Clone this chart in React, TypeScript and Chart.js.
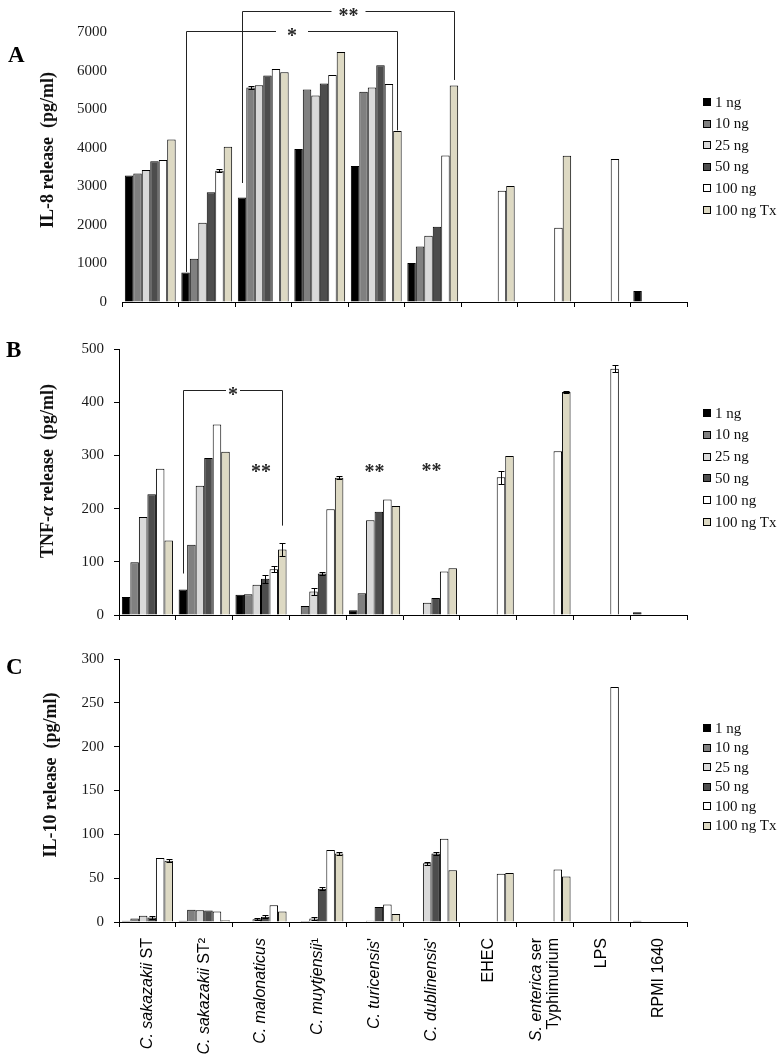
import { useEffect, useRef } from "react";
import { Chart, registerables } from "chart.js";

Chart.register(...registerables);
Chart.defaults.font.family = '"Liberation Serif", "Times New Roman", serif';
Chart.defaults.color = "#000";

// ---------- categories & doses ----------
const categories = [
  "C. sakazakii ST",
  "C. sakazakii ST\u00b2",
  "C. malonaticus",
  "C. muytjensii\u00b9",
  "C. turicensis'",
  "C. dublinensis'",
  "EHEC",
  "S. enterica ser\nTyphimurium",
  "LPS",
  "RPMI 1640",
];
const italicPrefix = [
  "C. sakazakii",
  "C. sakazakii",
  "C. malonaticus",
  "C. muytjensii",
  "C. turicensis",
  "C. dublinensis",
  "",
  "S. enterica",
  "",
  "",
];
const doseLabels = ["1 ng", "10 ng", "25 ng", "50 ng", "100 ng", "100 ng Tx"];
const doseColors = ["#000000", "#808080", "#d9d9d9", "#4d4d4d", "#ffffff", "#ddd9c3"];

// ---------- Panel A: IL-8 (pg/ml) ----------
const il8Max = 7000;
const il8Step = 1000;
const il8_1ng = [3280, 767, 2707, 3966, 3526, 1009, null, null, null, 285];
const il8_10ng = [3330, 1121, 5560, 5509, 5448, 1440, null, null, null, null];
const il8_25ng = [3420, 2052, 5621, 5353, 5560, 1716, null, null, null, null];
const il8_50ng = [3650, 2845, 5871, 5664, 6138, 1950, null, null, null, null];
const il8_100ng = [3681, 3400, 6043, 5888, 5655, 3800, 2887, 1927, 3708, null];
const il8_100ngTx = [4216, 4026, 5957, 6483, 4431, 5610, 3008, 3794, null, null];
const il8Errors = [
  [0, 0, 0, 0, 0, 0, 0, 0, 0, 0],
  [0, 0, 40, 0, 0, 0, 0, 0, 0, 0],
  [0, 0, 0, 0, 0, 0, 0, 0, 0, 0],
  [0, 0, 0, 0, 0, 0, 0, 0, 0, 0],
  [0, 40, 0, 0, 0, 0, 0, 0, 0, 0],
  [0, 0, 0, 0, 0, 0, 0, 0, 0, 0],
];
const il8Brackets = [
  { label: "*", fromCat: 1, fromDose: 0, fromEnd: 780, toCat: 4, toDose: 5, toEnd: 4450, top: 7020, gap: 16 },
  { label: "**", fromCat: 2, fromDose: 0, fromEnd: 3085, toCat: 5, toDose: 5, toEnd: 5756, top: 7545, gap: 17 },
];

// ---------- Panel B: TNF-alpha (pg/ml) ----------
const tnfMax = 500;
const tnfStep = 100;
const tnf_1ng = [34, 48, 38, null, 9, null, null, null, null, 5];
const tnf_10ng = [99, 132, 39, 17, 41, null, null, null, null, null];
const tnf_25ng = [184, 243, 57, 44, 178, 23, null, null, null, null];
const tnf_50ng = [227, 295, 68, 78, 194, 32, null, null, null, null];
const tnf_100ng = [275, 358, 86, 199, 217, 82, 259, 308, 463, null];
const tnf_100ngTx = [140, 307, 123, 258, 205, 88, 299, 419, null, null];
const tnfErrors = [
  [0, 0, 0, 0, 0, 0, 0, 0, 0, 0],
  [0, 0, 0, 0, 0, 0, 0, 0, 0, 0],
  [0, 0, 0, 6, 0, 0, 0, 0, 0, 0],
  [0, 0, 7, 2, 0, 0, 0, 0, 0, 0],
  [0, 0, 6, 0, 0, 0, 12, 0, 7, 0],
  [0, 0, 12, 3, 0, 0, 0, 2, 0, 0],
];
const tnfBrackets = [
  { label: "*", fromCat: 1, fromDose: 0, fromEnd: 78, toCat: 2, toDose: 5, toEnd: 168, top: 423, gap: 7 },
];
const tnfStars = [
  { cat: 2, value: 276, label: "**" },
  { cat: 4, value: 276, label: "**" },
  { cat: 5, value: 279, label: "**" },
];

// ---------- Panel C: IL-10 (pg/ml) ----------
const il10Max = 300;
const il10Step = 50;
const il10_1ng = [1.5, 1.5, null, null, null, null, null, null, null, 1.5];
const il10_10ng = [4, 14, null, 1, null, null, null, null, null, null];
const il10_25ng = [7, 13.5, 3, 4, 1.5, 67, null, null, null, null];
const il10_50ng = [5, 13, 6, 38, 17, 78, null, null, null, null];
const il10_100ng = [73, 12, 19, 82, 20, 95, 55, 60, 268, null];
const il10_100ngTx = [70, 2, 12, 78, 9, 59, 56, 52, null, null];
const il10Errors = [
  [0, 0, 0, 0, 0, 0, 0, 0, 0, 0],
  [0, 0, 0, 0, 0, 0, 0, 0, 0, 0],
  [0, 0, 1, 1.5, 0, 1.5, 0, 0, 0, 0],
  [2, 0, 1.5, 1.5, 0, 1.5, 0, 0, 0, 0],
  [0, 0, 0, 0, 0, 0, 0, 0, 0, 0],
  [2, 0, 0, 2, 0, 0, 0, 0, 0, 0],
];

type Bracket = {
  label: string;
  fromCat: number;
  fromDose: number;
  fromEnd: number;
  toCat: number;
  toDose: number;
  toEnd: number;
  top: number;
  gap: number;
};
type Star = { cat: number; value: number; label: string };

type PanelProps = {
  top: number;
  height: number;
  padTop: number;
  axisLeft: number;
  xHeight: number;
  series: (number | null)[][];
  errors: number[][];
  yMax: number;
  yStep: number;
  yLine: boolean;
  brackets?: Bracket[];
  stars?: Star[];
  xLabels?: boolean;
};

const CANVAS_W = 783;
const PLOT_RIGHT = 687;

function drawStarText(ctx: CanvasRenderingContext2D, text: string, x: number, yCenter: number) {
  ctx.save();
  ctx.fillStyle = "#2a2a2a";
  ctx.font = 'bold 20px "Liberation Serif"';
  ctx.textAlign = "center";
  ctx.textBaseline = "alphabetic";
  ctx.fillText(text, x, yCenter + 10);
  ctx.restore();
}

function BarPanel(p: PanelProps) {
  const ref = useRef<HTMLCanvasElement | null>(null);
  useEffect(() => {
    if (!ref.current) return;
    const overlay = {
      id: "overlay",
      afterDatasetsDraw(chart: any) {
        const ctx: CanvasRenderingContext2D = chart.ctx;
        const ys = chart.scales.y;
        const xs = chart.scales.x;
        // error bars
        chart.data.datasets.forEach((ds: any, di: number) => {
          const errs: number[] = p.errors[di];
          const meta = chart.getDatasetMeta(di);
          errs.forEach((e, j) => {
            const v = ds.data[j];
            if (!e || v == null) return;
            const bx = Math.round(meta.data[j].x) + 0.5;
            const yt = Math.round(ys.getPixelForValue(v + e)) + 0.5;
            const yb = Math.round(ys.getPixelForValue(Math.max(0, v - e))) + 0.5;
            ctx.save();
            ctx.strokeStyle = "#000";
            ctx.lineWidth = 1;
            ctx.beginPath();
            ctx.moveTo(bx, yt);
            ctx.lineTo(bx, yb);
            ctx.moveTo(bx - 3, yt);
            ctx.lineTo(bx + 3, yt);
            ctx.moveTo(bx - 3, yb);
            ctx.lineTo(bx + 3, yb);
            ctx.stroke();
            ctx.restore();
          });
        });
        // significance brackets
        (p.brackets || []).forEach((b) => {
          const x1 = Math.round(chart.getDatasetMeta(b.fromDose).data[b.fromCat].x) + 0.5;
          const x2 = Math.round(chart.getDatasetMeta(b.toDose).data[b.toCat].x) + 0.5;
          const yTop = Math.round(ys.getPixelForValue(b.top)) + 0.5;
          const y1 = ys.getPixelForValue(b.fromEnd);
          const y2 = ys.getPixelForValue(b.toEnd);
          const mid = (x1 + x2) / 2;
          ctx.save();
          ctx.strokeStyle = "#222";
          ctx.lineWidth = 1;
          ctx.beginPath();
          ctx.moveTo(x1, y1);
          ctx.lineTo(x1, yTop);
          ctx.lineTo(mid - b.gap, yTop);
          ctx.moveTo(mid + b.gap, yTop);
          ctx.lineTo(x2, yTop);
          ctx.lineTo(x2, y2);
          ctx.stroke();
          ctx.restore();
          drawStarText(ctx, b.label, mid, yTop);
        });
        (p.stars || []).forEach((s) => {
          drawStarText(ctx, s.label, xs.getPixelForValue(s.cat), ys.getPixelForValue(s.value));
        });
      },
      afterDraw(chart: any) {
        if (!p.xLabels) return;
        const ctx: CanvasRenderingContext2D = chart.ctx;
        const xs = chart.scales.x;
        const labelTop = chart.chartArea.bottom + 16;
        const size = 16;
        categories.forEach((c, i) => {
          const lines = c.split("\n");
          const cx = xs.getPixelForValue(i);
          lines.forEach((line, li) => {
            const off = (li - (lines.length - 1) / 2) * 17;
            const it = li === 0 ? italicPrefix[i] : "";
            const segs: [string, boolean][] =
              it && line.startsWith(it) ? [[it, true], [line.slice(it.length), false]] : [[line, false]];
            ctx.save();
            ctx.translate(cx + off, labelTop);
            ctx.rotate(-Math.PI / 2);
            ctx.fillStyle = "#000";
            ctx.textBaseline = "middle";
            ctx.textAlign = "left";
            let total = 0;
            segs.forEach(([t, ital]) => {
              ctx.font = `${ital ? "italic " : ""}${size}px "Liberation Sans"`;
              total += ctx.measureText(t).width;
            });
            let cur = -total;
            segs.forEach(([t, ital]) => {
              ctx.font = `${ital ? "italic " : ""}${size}px "Liberation Sans"`;
              ctx.fillText(t, cur, 0);
              cur += ctx.measureText(t).width;
            });
            ctx.restore();
          });
        });
      },
    };

    const chart = new Chart(ref.current, {
      type: "bar",
      data: {
        labels: categories,
        datasets: p.series.map((s, i) => ({
          label: doseLabels[i],
          data: s,
          backgroundColor: doseColors[i],
          borderColor: "#000",
          borderWidth: 1,
          categoryPercentage: 0.9,
          barPercentage: 1.0,
        })) as any,
      },
      options: {
        responsive: false,
        animation: false,
        layout: { padding: { top: p.padTop, right: CANVAS_W - PLOT_RIGHT, bottom: 0, left: 0 } },
        plugins: { legend: { display: false }, tooltip: { enabled: false } },
        scales: {
          x: {
            type: "category",
            offset: true,
            afterFit: (s: any) => {
              s.height = p.xHeight;
            },
            grid: {
              display: true,
              drawOnChartArea: false,
              drawTicks: true,
              tickLength: 5,
              color: "#000",
              offset: true,
            },
            border: { display: true, color: "#000", width: 1 },
            ticks: { display: false },
          },
          y: {
            min: 0,
            max: p.yMax,
            afterFit: (s: any) => {
              s.width = p.axisLeft;
            },
            grid: {
              display: true,
              drawOnChartArea: false,
              drawTicks: p.yLine,
              tickLength: 5,
              color: p.yLine ? "#000" : "rgba(0,0,0,0)",
            },
            border: { display: p.yLine, color: "#000", width: 1 },
            ticks: {
              stepSize: p.yStep,
              padding: p.yLine ? 10 : 15,
              font: { size: 15, family: '"Liberation Serif"' },
              color: "#1a1a1a",
              callback: (v: any) => String(v),
            },
          },
        },
      },
      plugins: [overlay],
    });
    return () => chart.destroy();
  }, []);
  return (
    <canvas
      ref={ref}
      width={CANVAS_W}
      height={p.height}
      style={{ position: "absolute", left: 0, top: p.top, width: CANVAS_W, height: p.height }}
    />
  );
}

function Legend({ top, spacing }: { top: number; spacing: number }) {
  return (
    <>
      {doseLabels.map((l, i) => (
        <div
          key={l}
          style={{
            position: "absolute",
            left: 703,
            top: top + i * spacing - 9,
            height: 18,
            lineHeight: "18px",
            display: "flex",
            alignItems: "center",
            whiteSpace: "nowrap",
            font: '15px "Liberation Serif"',
            color: "#111",
          }}
        >
          <span
            style={{
              display: "inline-block",
              boxSizing: "border-box",
              width: 8,
              height: 8,
              border: "1px solid #000",
              background: doseColors[i],
              marginRight: 4,
            }}
          />
          <span>{l}</span>
        </div>
      ))}
    </>
  );
}

function YTitle({ x, y, children }: { x: number; y: number; children: any }) {
  return (
    <div
      style={{
        position: "absolute",
        left: x,
        top: y,
        transform: "translate(-50%, -50%) rotate(-90deg)",
        whiteSpace: "pre",
        font: 'bold 18px "Liberation Serif"',
        color: "#111",
      }}
    >
      {children}
    </div>
  );
}

function PanelLetter({ x, capTop, children }: { x: number; capTop: number; children: string }) {
  return (
    <div
      style={{
        position: "absolute",
        left: x,
        top: capTop - 4,
        font: 'bold 23px "Liberation Serif"',
        lineHeight: "22px",
        color: "#000",
      }}
    >
      {children}
    </div>
  );
}

export default function App() {
  return (
    <div
      style={{
        position: "fixed",
        left: 0,
        top: 0,
        width: CANVAS_W,
        height: 1058,
        background: "#fff",
        overflow: "hidden",
      }}
    >
      <BarPanel
        top={0}
        height={330}
        padTop={32}
        axisLeft={122}
        xHeight={28}
        series={[il8_1ng, il8_10ng, il8_25ng, il8_50ng, il8_100ng, il8_100ngTx]}
        errors={il8Errors}
        yMax={il8Max}
        yStep={il8Step}
        yLine={false}
        brackets={il8Brackets}
      />
      <BarPanel
        top={330}
        height={310}
        padTop={17}
        axisLeft={119}
        xHeight={25}
        series={[tnf_1ng, tnf_10ng, tnf_25ng, tnf_50ng, tnf_100ng, tnf_100ngTx]}
        errors={tnfErrors}
        yMax={tnfMax}
        yStep={tnfStep}
        yLine={true}
        brackets={tnfBrackets}
        stars={tnfStars}
      />
      <BarPanel
        top={640}
        height={418}
        padTop={12}
        axisLeft={119}
        xHeight={136}
        series={[il10_1ng, il10_10ng, il10_25ng, il10_50ng, il10_100ng, il10_100ngTx]}
        errors={il10Errors}
        yMax={il10Max}
        yStep={il10Step}
        yLine={true}
        xLabels={true}
      />
      <PanelLetter x={8} capTop={48}>A</PanelLetter>
      <PanelLetter x={6} capTop={343}>B</PanelLetter>
      <PanelLetter x={6} capTop={660}>C</PanelLetter>
      <YTitle x={47} y={150}>{"IL-8 release  (pg/ml)"}</YTitle>
      <YTitle x={47} y={471}>
        {"TNF-"}
        <i>{"\u03b1"}</i>
        {" release  (pg/ml)"}
      </YTitle>
      <YTitle x={50} y={775}>{"IL-10 release  (pg/ml)"}</YTitle>
      <Legend top={102} spacing={21.6} />
      <Legend top={413} spacing={21.8} />
      <Legend top={728} spacing={19.5} />
    </div>
  );
}
